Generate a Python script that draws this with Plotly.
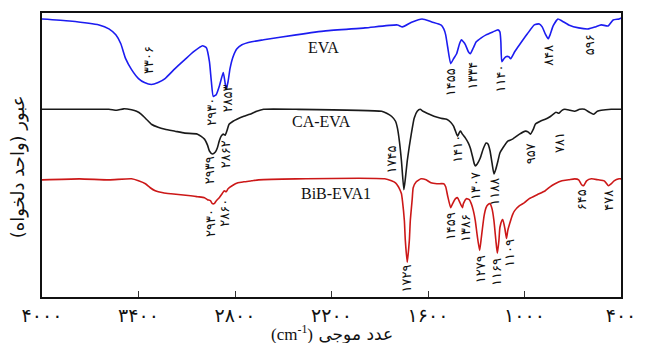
import numpy as np
import plotly.graph_objects as go

# ---- data (wavenumber cm-1, transmittance in arbitrary units) ----
eva_wn = [4000, 3829, 3645, 3584, 3541, 3510, 3480, 3443, 3400, 3363, 3320, 3278, 3235, 3173, 3112, 3057,
          3002, 2978, 2959, 2947, 2935, 2916, 2898, 2873, 2861, 2855, 2843, 2831, 2812, 2788, 2757, 2696,
          2622, 2420, 2237, 1992, 1790, 1759, 1698, 1637, 1576, 1520, 1502, 1490, 1478, 1459, 1441, 1422,
          1404, 1392, 1380, 1367, 1349, 1337, 1318, 1300, 1269, 1239, 1196, 1165, 1153, 1147, 1141, 1128,
          1116, 1098, 1086, 1061, 1031, 982, 939, 908, 890, 871, 853, 841, 822, 792, 767, 725, 663, 602,
          559, 523, 480, 449, 412, 400]
eva_t = [280, 278, 274, 270, 264, 255, 240, 229, 220, 216, 214, 216, 220, 230, 239, 247,
         253, 251, 237, 217, 202, 204, 212, 226, 215, 209, 217, 230, 242, 250, 254, 257,
         259, 264, 268, 271, 274, 272, 277, 280, 277, 274, 270, 264, 252, 235, 240, 245,
         255, 259, 257, 254, 247, 245, 251, 257, 261, 264, 267, 269, 267, 257, 237, 240,
         242, 242, 240, 247, 254, 265, 274, 275, 272, 265, 260, 264, 273, 280, 278, 274, 271, 270,
         272, 274, 273, 279, 280, 281]

caeva_wn = [4000, 3767, 3584, 3535, 3492, 3443, 3412, 3382, 3351, 3320, 3278, 3235, 3173, 3112, 3033, 2990,
            2971, 2959, 2941, 2922, 2910, 2898, 2886, 2873, 2861, 2849, 2837, 2812, 2788, 2745, 2708, 2665,
            2622, 2420, 1888, 1857, 1827, 1802, 1790, 1778, 1765, 1750, 1741, 1729, 1716, 1704, 1686, 1667,
            1649, 1631, 1606, 1563, 1520, 1484, 1459, 1441, 1429, 1416, 1404, 1398, 1386, 1367, 1349, 1337,
            1324, 1312, 1306, 1294, 1275, 1257, 1239, 1227, 1214, 1202, 1190, 1178, 1165, 1153, 1135, 1104,
            1074, 1031, 994, 976, 963, 945, 933, 902, 871, 847, 822, 804, 786, 767, 749, 718, 688, 657,
            627, 596, 572, 547, 523, 461, 400]
caeva_t = [189, 189, 189, 188, 189.5, 188.5, 187, 184, 179, 174, 171, 169, 167, 165, 164, 159,
           153, 147, 144, 146, 150, 157, 162, 164, 163, 168, 174, 177, 179, 182, 184, 187,
           189, 189, 187, 185, 182, 177, 170, 157, 137, 108, 119, 137, 152, 164, 180, 187,
           189, 187, 185, 182, 180, 179, 176, 172, 167, 162, 166, 167, 164, 160, 155, 150,
           142, 134, 132, 134, 140, 149, 155, 154, 147, 135, 124, 129, 137, 145, 150, 157,
           159, 164, 167, 166, 164, 169, 174, 177, 179, 181, 184, 186, 185, 188, 189, 188, 187, 189,
           189, 186, 184, 187, 188, 189, 189]

bib_wn = [4000, 3767, 3584, 3443, 3400, 3357, 3327, 3296, 3247, 3198, 3137, 3076, 3033, 2990, 2971, 2953,
          2941, 2929, 2916, 2898, 2880, 2867, 2855, 2843, 2818, 2782, 2745, 2696, 2653, 2420, 1869, 1827,
          1802, 1784, 1772, 1765, 1759, 1747, 1741, 1729, 1716, 1710, 1698, 1692, 1673, 1643, 1612, 1582,
          1545, 1502, 1490, 1478, 1459, 1447, 1429, 1416, 1404, 1386, 1380, 1361, 1343, 1331, 1318, 1306,
          1294, 1279, 1269, 1263, 1251, 1239, 1227, 1214, 1202, 1190, 1178, 1169, 1159, 1153, 1141, 1135,
          1122, 1112, 1104, 1092, 1074, 1061, 1031, 1000, 970, 921, 871, 841, 810, 767, 725, 688, 663,
          645, 633, 614, 584, 541, 504, 478, 461, 443, 412, 400]
bib_t = [118, 119, 118, 119, 117, 114, 110, 107, 105, 104, 103, 102, 101, 100, 98, 97,
         94, 94, 97, 100, 104, 107, 106, 109, 112, 115, 116, 117, 118, 119, 119, 117,
         115, 111, 107, 104, 97, 77, 57, 35, 57, 77, 99, 110, 116, 119, 118, 115,
         114, 114, 111, 102, 90, 94, 99, 100, 96, 90, 94, 99, 98, 94, 87, 77,
         62, 47, 59, 67, 82, 90, 93, 94, 89, 77, 57, 44, 57, 70, 77, 78,
         69, 59, 67, 74, 83, 87, 92, 95, 99, 103, 107, 111, 114, 117, 118, 119, 118,
         113, 112, 117, 119, 118, 117, 112, 114, 117, 119, 119]

series_names = ["EVA", "CA-EVA", "BiB-EVA1"]
series_colors = ["#1c1cf0", "#1a1a1a", "#cc1818"]

x_ticks = [4000, 3400, 2800, 2200, 1600, 1000, 400]

# peak labels: (value, label x in cm-1, label centre height)
eva_peaks = [(3306, 3339, 239), (2930, 2947, 187), (2853, 2850, 200), (1455, 1459, 216),
             (1334, 1320, 223), (1140, 1147, 220), (848, 847, 243), (596, 596, 254)]
caeva_peaks = [(2939, 2953, 128), (2862, 2861, 144), (1745, 1827, 139), (1410, 1422, 149),
               (1307, 1300, 112), (1188, 1184, 106), (957, 965, 144), (781, 786, 156)]
bib_peaks = [(2930, 2953, 75), (2860, 2867, 85), (1729, 1735, 19), (1459, 1459, 71),
             (1386, 1367, 70), (1279, 1276, 28), (1169, 1178, 25), (1109, 1092, 44),
             (645, 645, 98), (478, 474, 97)]

name_pos = [(2249, 251), (2261, 177), (2169, 104)]

FA = str.maketrans("0123456789", "۰۱۲۳۴۵۶۷۸۹")


def fa(n):
    return str(n).translate(FA)


fig = go.Figure()
for wn, t, name, col in zip([eva_wn, caeva_wn, bib_wn], [eva_t, caeva_t, bib_t], series_names, series_colors):
    fig.add_trace(go.Scatter(x=wn, y=t, mode="lines", name=name,
                             line=dict(color=col, width=1.6, shape="spline", smoothing=0.5),
                             showlegend=False, hoverinfo="skip"))

ann = []
for peaks in (eva_peaks, caeva_peaks, bib_peaks):
    for val, px, py in peaks:
        ann.append(dict(x=px, y=py, xref="x", yref="y", text=fa(val), showarrow=False,
                        textangle=-90, xanchor="center", yanchor="middle",
                        font=dict(family="DejaVu Sans", size=13, color="#111")))
for name, (px, py) in zip(series_names, name_pos):
    ann.append(dict(x=px, y=py, xref="x", yref="y", text=name, showarrow=False,
                    xanchor="center", yanchor="middle",
                    font=dict(family="Liberation Serif", size=16, color="#111")))

# axis titles
ann.append(dict(x=-24 / 588, y=(297 - 166) / 286, xref="paper", yref="paper",
                text="\u200fعبور (واحد دلخواه)\u200f", textangle=-90, showarrow=False,
                xanchor="center", yanchor="middle",
                font=dict(family="DejaVu Sans", size=18, color="#111")))
ann.append(dict(x=0.5, y=(297 - 333) / 286, xref="paper", yref="paper",
                text="<span style=\"font-family:'Liberation Serif'\">(cm<sup>-1</sup>)</span> عدد موجی",
                showarrow=False, xanchor="center", yanchor="middle",
                font=dict(family="DejaVu Sans", size=17, color="#111")))

fig.update_layout(
    width=647, height=343,
    margin=dict(l=42, r=17, t=11, b=46),
    paper_bgcolor="white", plot_bgcolor="white",
    annotations=ann,
    xaxis=dict(range=[4000, 400], tickvals=x_ticks, ticktext=[fa(v) for v in x_ticks],
               ticks="inside", ticklen=6, tickwidth=1, tickcolor="#333",
               showline=True, linewidth=2, linecolor="#111", mirror=True,
               showgrid=False, zeroline=False,
               tickfont=dict(family="DejaVu Sans", size=19, color="#111")),
    yaxis=dict(range=[0, 286], showticklabels=False, ticks="",
               showline=True, linewidth=2, linecolor="#111", mirror=True,
               showgrid=False, zeroline=False),
)

fig.write_html("out.html")
